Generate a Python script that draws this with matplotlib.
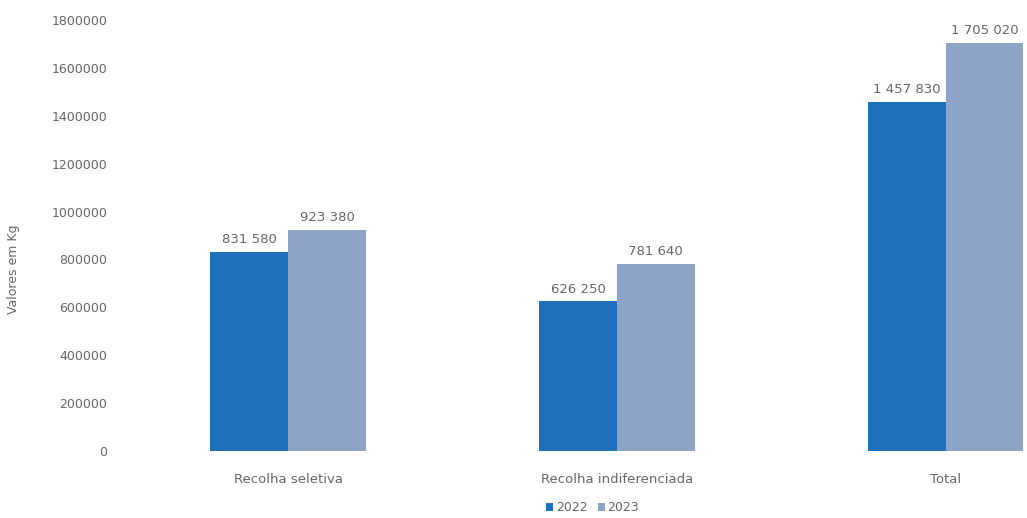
import numpy as np
import matplotlib.pyplot as plt

# Recolha de resíduos, valores em kg
categorias = ["Recolha seletiva", "Recolha indiferenciada", "Total"]
anos = ["2022", "2023"]
valores_2022 = [831580, 626250, 1457830]
valores_2023 = [923380, 781640, 1705020]
yticks = [0, 200000, 400000, 600000, 800000, 1000000, 1200000, 1400000, 1600000, 1800000]

cor_2022 = "#1f70ba"
cor_2023 = "#8ea4c7"
cor_texto = "#666666"


def fmt(v):
    # separador de milhares com espaço
    return f"{v:,}".replace(",", " ")


fig = plt.figure(figsize=(10.27, 5.18), dpi=100)
ax = fig.add_axes([0.1207, 0.1293, 0.96, 0.8321])

x = np.arange(len(categorias))
w = 0.237
b1 = ax.bar(x - w / 2, valores_2022, w, color=cor_2022, label=anos[0])
b2 = ax.bar(x + w / 2, valores_2023, w, color=cor_2023, label=anos[1])

for barras in (b1, b2):
    for r in barras:
        ax.annotate(fmt(int(r.get_height())), (r.get_x() + r.get_width() / 2, r.get_height()),
                    xytext=(0, 4), textcoords="offset points", ha="center", va="bottom",
                    fontsize=9.5, color=cor_texto)

ax.set_xlim(-0.5, 2.5)
ax.set_ylim(0, 1800000)
ax.set_xticks(x)
ax.set_xticklabels(categorias, fontsize=9.5, color=cor_texto)
ax.set_yticks(yticks)
ax.set_yticklabels([str(t) for t in yticks], fontsize=9, color=cor_texto)
ax.tick_params(length=0)
ax.tick_params(axis="x", pad=16)
ax.tick_params(axis="y", pad=12)
for s in ax.spines.values():
    s.set_visible(False)

fig.text(0.013, 0.48, "Valores em Kg", rotation=90, ha="center", va="center",
         fontsize=9, color=cor_texto)

fig.legend(loc="center", bbox_to_anchor=(0.577, 0.02), ncol=2, frameon=False,
           fontsize=9, handlelength=0.6, handleheight=0.6, handletextpad=0.2,
           columnspacing=0.8, labelcolor=cor_texto)

fig.savefig("out.png", dpi=100)
